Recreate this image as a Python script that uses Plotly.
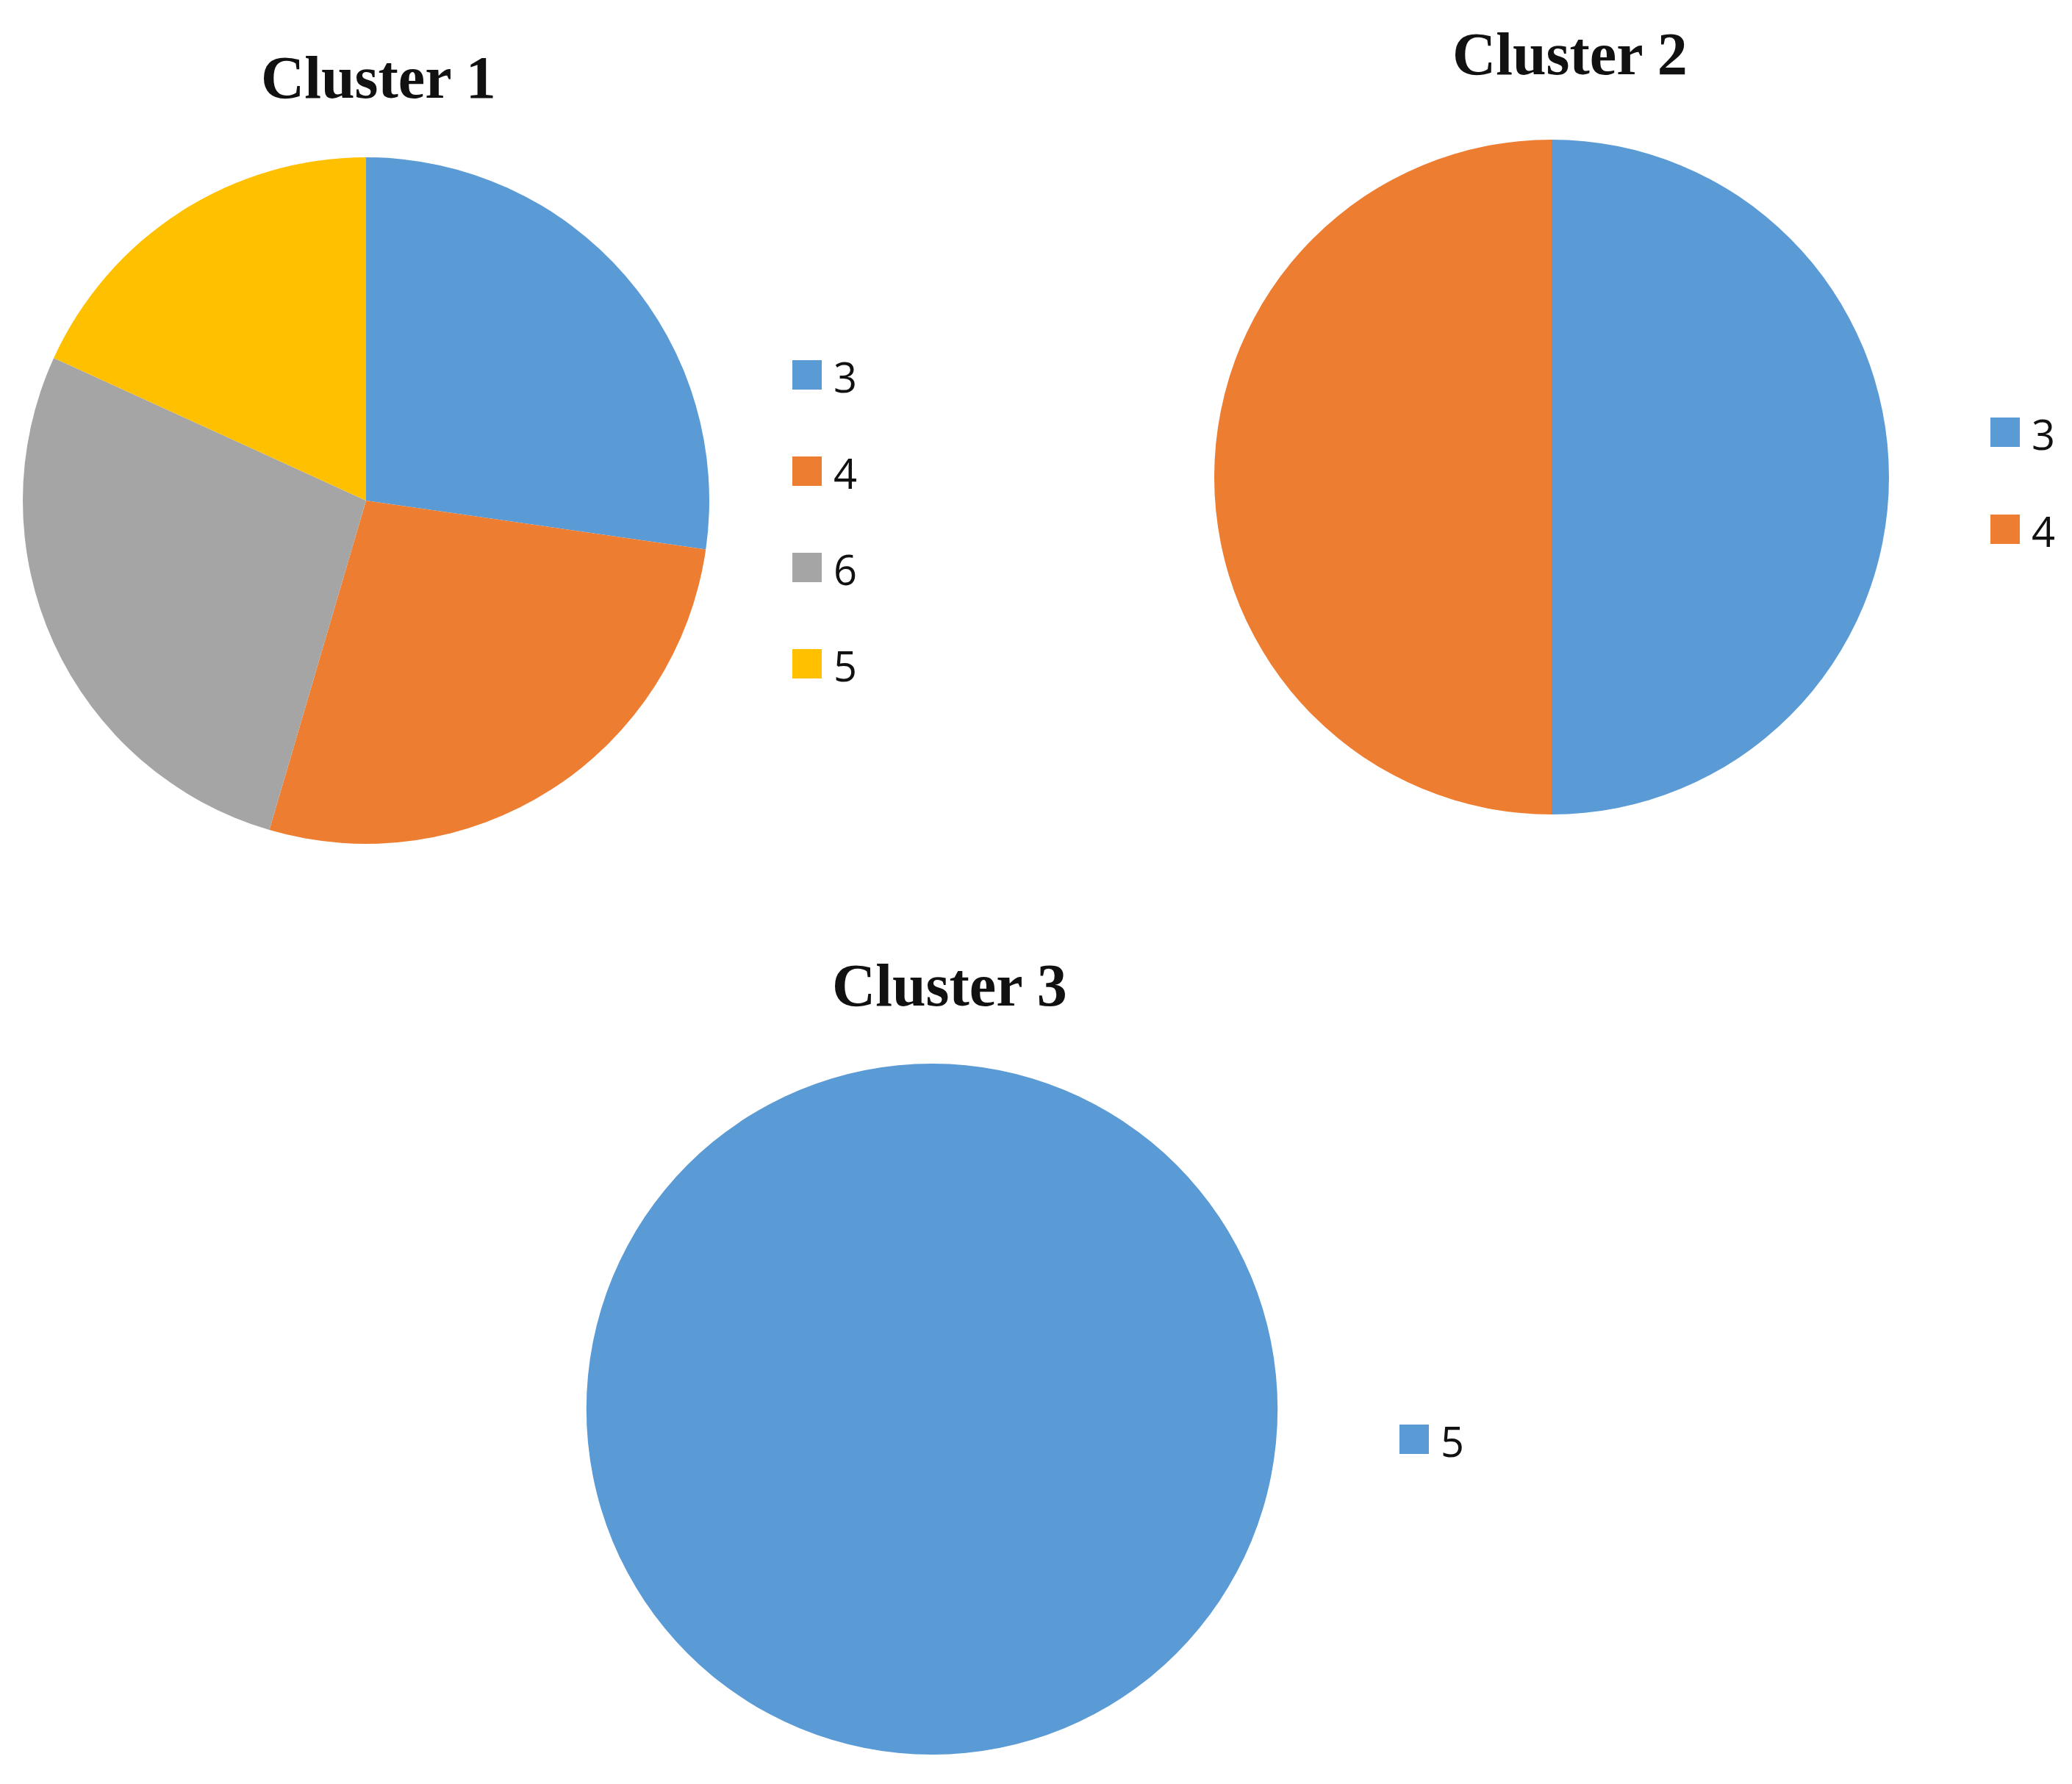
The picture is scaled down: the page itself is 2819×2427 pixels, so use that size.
import plotly.graph_objects as go

# Category labels and counts per cluster (legend order = slice order)
cluster1_labels = ["3", "4", "6", "5"]
cluster1_values = [3, 3, 3, 2]
cluster2_labels = ["3", "4"]
cluster2_values = [1, 1]
cluster3_labels = ["5"]
cluster3_values = [1]

titles = ["Cluster 1", "Cluster 2", "Cluster 3"]

PALETTE = ["#5B9BD5", "#ED7D31", "#A5A5A5", "#FFC000"]

W, H = 2819, 2427


def px_x(x):
    return x / W


def px_y(y):
    return 1 - y / H


# layout in page pixels: pie centre/radius, title centre, legend anchor
panels = [
    dict(labels=cluster1_labels, values=cluster1_values, title=titles[0],
         cx=490, cy=673, r=467, tx=507, ty=98, lx=1070, ly=502, step=131),
    dict(labels=cluster2_labels, values=cluster2_values, title=titles[1],
         cx=2103, cy=641, r=459, tx=2128, ty=66, lx=2700, ly=580, step=132),
    dict(labels=cluster3_labels, values=cluster3_values, title=titles[2],
         cx=1260, cy=1909, r=470, tx=1284, ty=1332, lx=1896, ly=1950, step=132),
]

fig = go.Figure()
shapes = []
annotations = []
SQ = 40

for p in panels:
    colors = PALETTE[:len(p["labels"])]
    fig.add_trace(go.Pie(
        labels=p["labels"], values=p["values"], name=p["title"],
        sort=False, direction="clockwise", rotation=0,
        textinfo="none", hoverinfo="label+value+percent",
        marker=dict(colors=colors, line=dict(width=0)),
        domain=dict(x=[px_x(p["cx"] - p["r"]), px_x(p["cx"] + p["r"])],
                    y=[px_y(p["cy"] + p["r"]), px_y(p["cy"] - p["r"])]),
        showlegend=False,
    ))
    annotations.append(dict(
        text=f"<b>{p['title']}</b>", x=px_x(p["tx"]), y=px_y(p["ty"]),
        xref="paper", yref="paper", xanchor="center", yanchor="middle",
        showarrow=False, font=dict(family="Liberation Serif", size=82, color="#111111"),
    ))
    # legend: coloured square + label per category
    for i, (lab, col) in enumerate(zip(p["labels"], colors)):
        yc = p["ly"] + i * p["step"]
        shapes.append(dict(
            type="rect", xref="paper", yref="paper",
            x0=px_x(p["lx"]), x1=px_x(p["lx"] + SQ),
            y0=px_y(yc + SQ / 2), y1=px_y(yc - SQ / 2),
            fillcolor=col, line=dict(width=0),
        ))
        annotations.append(dict(
            text=lab, x=px_x(p["lx"] + SQ + 14), y=px_y(yc + 2),
            xref="paper", yref="paper", xanchor="left", yanchor="middle",
            showarrow=False, font=dict(family="Open Sans", size=56, color="#111111"),
        ))

fig.update_layout(
    width=W, height=H,
    margin=dict(l=0, r=0, t=0, b=0),
    paper_bgcolor="white", plot_bgcolor="white",
    shapes=shapes, annotations=annotations,
    showlegend=False,
)

fig.write_html("out.html")
